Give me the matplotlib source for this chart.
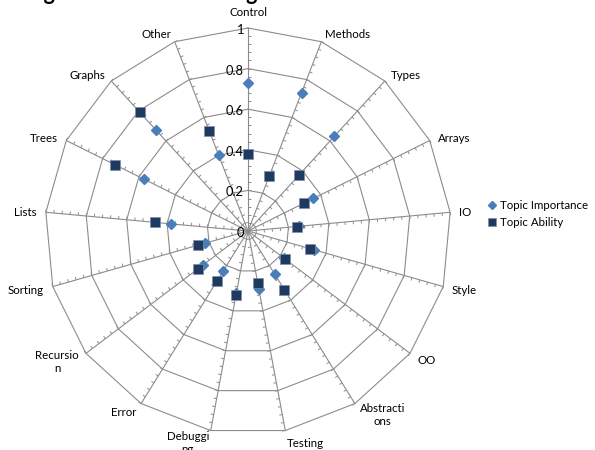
import numpy as np
import matplotlib
matplotlib.use("Agg")
import matplotlib.pyplot as plt
from matplotlib.collections import LineCollection
from matplotlib.lines import Line2D

# ── data ──────────────────────────────────────────────
categories = ["Control", "Methods", "Types", "Arrays", "IO", "Style", "OO",
              "Abstractions", "Testing", "Debugging", "Error", "Recursion",
              "Sorting", "Lists", "Trees", "Graphs", "Other"]
# the spoke labels wrap the way the spreadsheet wrapped them
spoke_labels = ["Control", "Methods", "Types", "Arrays", "IO", "Style", "OO",
                "Abstracti\nons", "Testing", "Debuggi\nng", "Error", "Recursio\nn",
                "Sorting", "Lists", "Trees", "Graphs", "Other"]
importance = [0.73, 0.73, 0.63, 0.36, 0.25, 0.34, 0.22, 0.25, 0.29,
              0.31, 0.23, 0.28, 0.22, 0.38, 0.57, 0.67, 0.40]
ability = [0.38, 0.29, 0.37, 0.31, 0.24, 0.32, 0.23, 0.34, 0.26,
           0.32, 0.29, 0.31, 0.255, 0.46, 0.73, 0.79, 0.53]
scale_values = [0, 0.2, 0.4, 0.6, 0.8, 1.0]
scale_labels = ["0", "0.2", "0.4", "0.6", "0.8", "1"]
minor_step = 0.04

# ── look ──────────────────────────────────────────────
FONT = "Lato"
FS = 8.3
GRID = "#8c8c8c"
BLUE = "#4a7ebb"
NAVY = "#1f3a60"
PX = 203.0          # pixels per unit of radius
PT = 72.0 / 100.0   # points per pixel at dpi 100

plt.rcParams["font.family"] = [FONT, "DejaVu Sans"]

n = len(categories)
theta = np.arange(n) * 2 * np.pi / n


def polar_xy(r, t):
    r = np.asarray(r, dtype=float)
    return r * np.sin(t), r * np.cos(t)


fig = plt.figure(figsize=(5.95, 4.5), dpi=100)
k = 1.15
side = 2 * k * PX
cx, cy = 248.0, 450.0 - 231.0
ax = fig.add_axes([(cx - side / 2) / 595, (cy - side / 2) / 450, side / 595, side / 450])
ax.set_xlim(-k, k)
ax.set_ylim(-k, k)
ax.axis("off")

# polygon gridlines
for g in scale_values[1:]:
    gx, gy = polar_xy(np.full(n + 1, g), np.append(theta, theta[0]))
    ax.plot(gx, gy, color=GRID, lw=0.8, zorder=1)

# spokes
segs = []
for t in theta:
    x1, y1 = polar_xy(1.0, t)
    segs.append([(0, 0), (x1, y1)])
ax.add_collection(LineCollection(segs, colors=GRID, linewidths=0.8, zorder=1))

# small tick marks on the clockwise side of every spoke
tick_len = 3.0 / PX
ticks = []
for t in theta:
    for m in np.arange(minor_step, 1.0 + 1e-9, minor_step):
        bx, by = polar_xy(m, t)
        ticks.append([(bx, by), (bx + tick_len * np.cos(t), by - tick_len * np.sin(t))])
ax.add_collection(LineCollection(ticks, colors=GRID, linewidths=0.7, zorder=1))

# value scale along the Control spoke
for v, lab in zip(scale_values, scale_labels):
    ax.annotate(lab, (0, v), xytext=(-4 * PT, -2 * PT), textcoords="offset points",
                ha="right", va="center", fontsize=FS + 1, color="black")

# spoke labels
for t, lab in zip(theta, spoke_labels):
    vx, vy = polar_xy(1.0, t)
    s, c = np.sin(t), np.cos(t)
    if abs(s) < 0.1 and c > 0:
        off = (0, 10 * PT)
        ha, va = "center", "bottom"
    else:
        off = (9 * s * PT, (9 * c - 1.5) * PT)
        ha = "left" if s > 0 else "right"
        va = "center"
        if "\n" in lab:
            va = "top"
            off = (off[0], off[1] + 10 * PT)
        elif c < -0.9:
            off = (off[0], off[1] - 2.5 * PT)
    ax.annotate(lab, (vx, vy), xytext=off, textcoords="offset points",
                ha=ha, va=va, multialignment="center", fontsize=FS,
                annotation_clip=False)

# the two series
ix, iy = polar_xy(importance, theta)
ax.plot(ix, iy, linestyle="none", marker="D", ms=5.2, color=BLUE,
        markeredgecolor=BLUE, zorder=3, clip_on=False)
sx, sy = polar_xy(ability, theta)
ax.plot(sx, sy, linestyle="none", marker="s", ms=7.6, color=NAVY,
        markeredgecolor="#7f8fa8", markeredgewidth=0.5, zorder=4, clip_on=False)

handles = [
    Line2D([], [], linestyle="none", marker="D", ms=4.5, color=BLUE),
    Line2D([], [], linestyle="none", marker="s", ms=6, color=NAVY,
           markeredgecolor="#7f8fa8", markeredgewidth=0.5),
]
fig.legend(handles, ["Topic Importance", "Topic Ability"], loc="center left",
           bbox_to_anchor=(487 / 595, 1 - 214 / 450), frameon=False,
           fontsize=FS, handlelength=0.8, handletextpad=0.3, labelspacing=0.55,
           borderpad=0, borderaxespad=0)

# chart title sits above the canvas edge, only its descenders show
fig.text(26 / 595, 1.0, "Figure 4: Student Ratings", fontsize=15.5,
         fontweight="bold", ha="left", va="baseline")

fig.savefig("out.png", dpi=100)
